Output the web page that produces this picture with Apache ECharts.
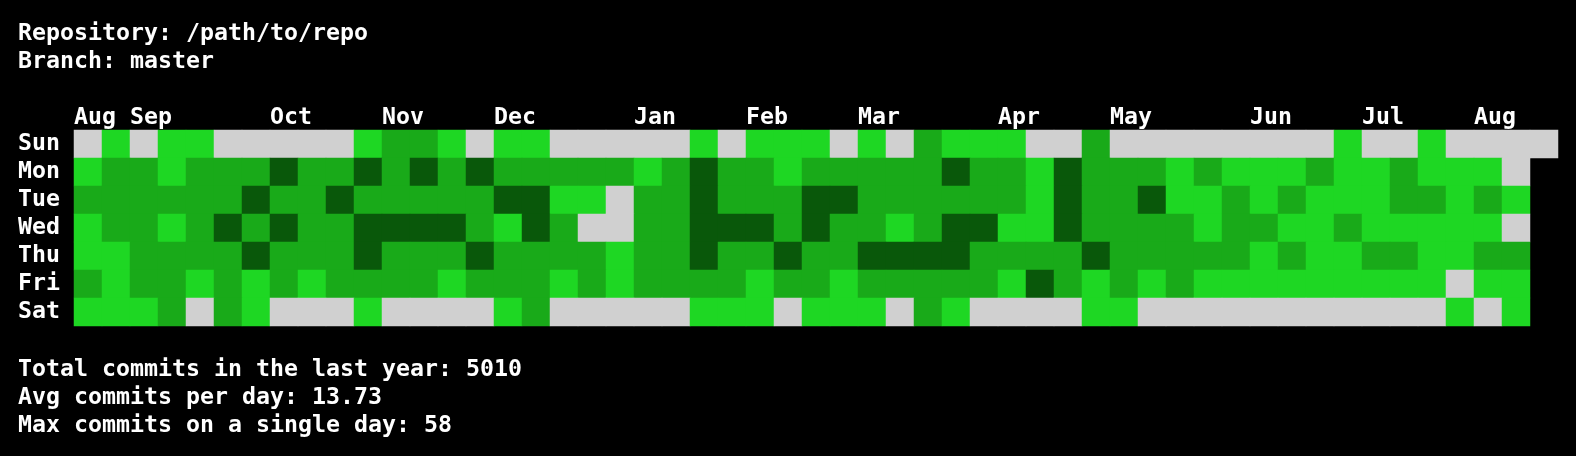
<!DOCTYPE html>
<html>
<head>
<meta charset="utf-8">
<script src="https://cdn.jsdelivr.net/npm/echarts@6/dist/echarts.min.js"></script>
<style>
html,body{margin:0;padding:0;background:#000;}
#chart{width:1576px;height:456px;}
</style>
</head>
<body>
<div id="chart"></div>
<script>
// ---- data ----
const weekdays = ['Sun', 'Mon', 'Tue', 'Wed', 'Thu', 'Fri', 'Sat'];
// activity level per week column (0 = none, 1 = low, 2 = mid, 3 = high)
const sun = [0,1,0,1,1,0,0,0,0,0,1,2,2, 1,0,1,1,0,0,0,0,0,1,0,1,1, 1,0,1,0,2,1,1,1,0,0,2,0,0, 0,0,0,0,0,0,1,0,0,1,0,0,0,0];
const mon = [1,2,2,1,2,2,2,3,2,2,3,2,3, 2,3,2,2,2,2,2,1,2,3,2,2,1, 2,2,2,2,2,3,2,2,1,3,2,2,2, 1,2,1,1,1,2,1,1,2,1,1,1,0];
const tue = [2,2,2,2,2,2,3,2,2,3,2,2,2, 2,2,3,3,1,1,0,2,2,3,2,2,2, 3,3,2,2,2,2,2,2,1,3,2,2,3, 1,1,2,1,2,1,1,1,2,2,1,2,1];
const wed = [1,2,2,1,2,3,2,3,2,2,3,3,3, 3,2,1,3,2,0,0,2,2,3,3,3,2, 3,2,2,1,2,3,3,1,1,3,2,2,2, 2,1,2,2,1,1,2,1,1,1,1,1,0];
const thu = [1,1,2,2,2,2,3,2,2,2,3,2,2, 2,3,2,2,2,2,1,2,2,3,2,2,3, 2,2,3,3,3,3,2,2,2,2,3,2,2, 2,2,2,1,2,1,1,2,2,1,1,2,2];
const fri = [2,1,2,2,1,2,1,2,1,2,2,2,2, 1,2,2,2,1,2,1,2,2,2,2,1,2, 2,1,2,2,2,2,2,1,3,2,1,2,1, 2,1,1,1,1,1,1,1,1,1,0,1,1];
const sat = [1,1,1,2,0,2,1,0,0,0,1,0,0, 0,0,1,2,0,0,0,0,0,1,1,1,0, 1,1,1,0,2,1,0,0,0,0,1,1,0, 0,0,0,0,0,0,0,0,0,0,1,0,1];
const rows = [sun, mon, tue, wed, thu, fri, sat];

const monthNames = ['Aug','Sep','Oct','Nov','Dec','Jan','Feb','Mar','Apr','May','Jun','Jul','Aug'];
const monthStartCol = [0, 2, 7, 11, 15, 20, 24, 28, 33, 37, 42, 46, 50];

const repository = '/path/to/repo';
const branch = 'master';
const totalCommits = 5010;
const avgPerDay = '13.73';
const maxPerDay = 58;

// ---- build ----
const weekCount = 53;
const weekCats = [];
for (let i = 0; i < weekCount; i++) weekCats.push(String(i));
const edgeCats = [];
for (let i = 0; i <= weekCount; i++) {
  const k = monthStartCol.indexOf(i);
  edgeCats.push(k >= 0 ? monthNames[k] : '');
}
const data = [];
rows.forEach((r, y) => r.forEach((v, x) => data.push([x, y, v])));

const FONT_FAMILY = '"DejaVu Sans Mono", monospace';
const FS = 23.25;
const TXT = '#ffffff';
const font = 'bold ' + FS + 'px ' + FONT_FAMILY;

const chart = echarts.init(document.getElementById('chart'));
const textEl = (str, y) => ({
  type: 'text', x: 18, y: y, silent: true,
  style: { text: str, fill: TXT, font: font, verticalAlign: 'middle', align: 'left' }
});

chart.setOption({
  backgroundColor: '#000000',
  animation: false,
  grid: { left: 74, top: 130, width: weekCount * 28, height: 196, containLabel: false },
  xAxis: [
    { type: 'category', data: weekCats, show: false },
    {
      type: 'category', data: edgeCats, boundaryGap: false, position: 'top',
      axisLine: { show: false }, axisTick: { show: false }, splitLine: { show: false },
      axisLabel: {
        interval: 0, align: 'left', verticalAlign: 'middle', margin: 12,
        color: TXT, fontFamily: FONT_FAMILY, fontSize: FS, fontWeight: 'bold'
      }
    }
  ],
  yAxis: {
    type: 'category', data: weekdays, inverse: true,
    axisLine: { show: false }, axisTick: { show: false }, splitLine: { show: false },
    axisLabel: {
      interval: 0, align: 'left', margin: 56, color: TXT, padding: [4, 0, 0, 0],
      fontFamily: FONT_FAMILY, fontSize: FS, fontWeight: 'bold'
    }
  },
  visualMap: {
    type: 'piecewise', show: false, dimension: 2,
    pieces: [
      { value: 0, color: '#d0d0d0' },
      { value: 1, color: '#1ed723' },
      { value: 2, color: '#19aa19' },
      { value: 3, color: '#09580a' }
    ]
  },
  series: [{
    type: 'heatmap', xAxisIndex: 0, yAxisIndex: 0, data: data,
    itemStyle: { borderWidth: 0 },
    emphasis: { disabled: true }
  }],
  graphic: [
    textEl('Repository: ' + repository, 34),
    textEl('Branch: ' + branch, 62),
    textEl('Total commits in the last year: ' + totalCommits, 370),
    textEl('Avg commits per day: ' + avgPerDay, 398),
    textEl('Max commits on a single day: ' + maxPerDay, 426)
  ]
});
</script>
</body>
</html>
